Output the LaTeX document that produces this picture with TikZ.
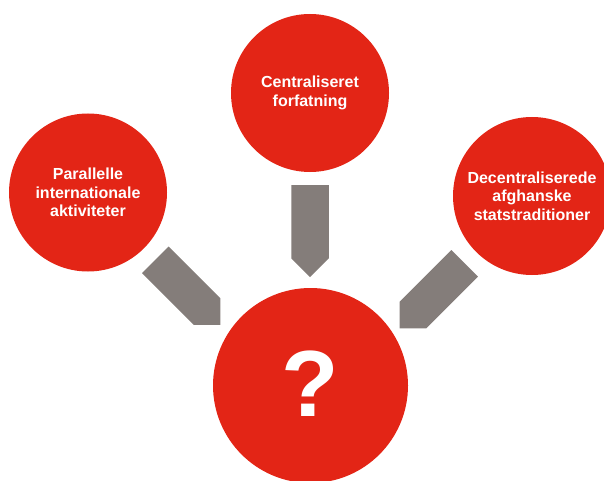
\documentclass[tikz,border=0pt]{standalone}
\usepackage{fontspec}
\setmainfont{Liberation Sans}

\definecolor{dotred}{RGB}{227,37,22}
\definecolor{arrowgray}{RGB}{132,125,122}

\tikzset{
	dot/.style={circle, fill=dotred, text=white, align=center, inner sep=0pt,
		minimum size=158pt, font=\fontsize{16}{18.5}\selectfont\bfseries},
	pics/chevron/.style={code={
		\fill[arrowgray] (0,-18.75) -- (73.25,-18.75) -- (92,0) -- (73.25,18.75) -- (0,18.75) -- cycle;
	}}
}

\begin{document}
\begin{tikzpicture}[x=1pt,y=1pt]
	\useasboundingbox (0,0) rectangle (604,480);
	\clip (0,0) rectangle (604,480);

	\node[dot] (cen) at (310,387) {Centraliseret\\forfatning};
	\node[dot] (par) at (88,287.5) {Parallelle\\internationale\\aktiviteter};
	\node[dot] (dec) at (532,284) {Decentraliserede\\afghanske\\statstraditioner};
	\node[dot, minimum size=195pt, font=\fontsize{94}{94}\selectfont\bfseries] (q) at (310.5,94.5) {\raisebox{4pt}{?}};

	\pic[rotate=-90] at ([yshift=-13pt]cen.south) {chevron};
	\pic[rotate=-45] at ([shift={(-45:16)}]par.-45) {chevron};
	\pic[rotate=-135] at ([shift={(-135:16)}]dec.-135) {chevron};
\end{tikzpicture}
\end{document}
